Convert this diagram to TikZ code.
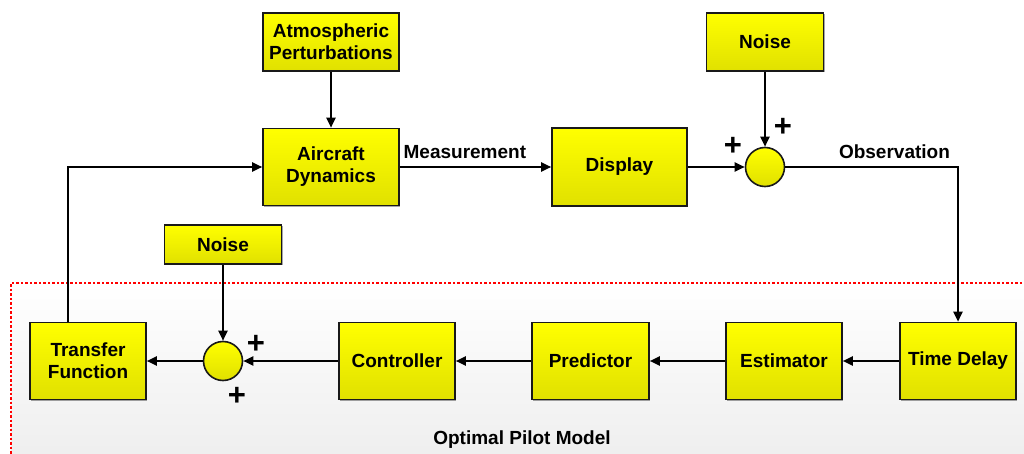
\documentclass[tikz,border=0pt]{standalone}
\usepackage{fontspec}
\setmainfont{Liberation Sans}
\usetikzlibrary{arrows.meta,shadows}
\tikzset{
  blk/.style={draw=black!90, line width=1.6pt, inner sep=0pt,
    top color=yellow, bottom color=yellow!88!black,
    drop shadow={shadow xshift=1.2pt, shadow yshift=-1.2pt, opacity=0.35, fill=black},
    font=\fontsize{19}{22}\selectfont\bfseries, align=center},
  sumnode/.style={circle, draw=black!90, line width=1.6pt, minimum size=39pt, inner sep=0pt,
    top color=yellow, bottom color=yellow!88!black},
  conn/.style={line width=2pt, -{Triangle[length=10pt,width=9pt]}},
  lbl/.style={font=\fontsize{19}{22}\selectfont\bfseries, inner sep=0pt},
  sgn/.style={font=\fontsize{31}{31}\selectfont\bfseries, inner sep=0pt}
}
\begin{document}
\begin{tikzpicture}[x=1pt,y=-1pt]
\useasboundingbox (0,0) rectangle (1024,454);
% pilot model region
\begin{scope}
\clip (0,0) rectangle (1024,454);
\fill[top color=white, bottom color=black!7] (11,283) rectangle (1040,470);
\draw[red, line width=1.4pt, dash pattern=on 2.5pt off 2pt] (1040,283) -- (11,283) -- (11,470);
\end{scope}
\node[lbl] (opm) at (522,440) {Optimal Pilot Model};

% upper loop
\node[blk, minimum width=136pt, minimum height=58pt] (atm) at (331,42) {Atmospheric\\Perturbations};
\node[blk, minimum width=136pt, minimum height=77pt] (ac) at (331,167) {Aircraft\\Dynamics};
\node[blk, minimum width=135pt, minimum height=78pt] (disp) at (619.5,167) {Display};
\node[blk, minimum width=117pt, minimum height=58pt] (n1) at (765,42) {Noise};
\node[sumnode] (s1) at (765,167) {};

% pilot model chain
\node[blk, minimum width=117pt, minimum height=39pt] (n2) at (223,244.5) {Noise};
\node[blk, minimum width=116pt, minimum height=77pt] (tf) at (88,361) {Transfer\\Function};
\node[sumnode] (s2) at (223,361) {};
\node[blk, minimum width=116pt, minimum height=77pt] (ctrl) at (397,361) {Controller};
\node[blk, minimum width=117pt, minimum height=77pt] (pred) at (590.5,361) {Predictor};
\node[blk, minimum width=116pt, minimum height=77pt] (est) at (784,361) {Estimator};
\node[blk, minimum width=116pt, minimum height=77pt] (td) at (958,361) {Time Delay};

% connectors
\draw[conn] (atm) -- (ac);
\draw[conn] (ac) -- node[lbl, above=7pt, pos=0.43] {Measurement} (disp);
\draw[conn] (disp) -- (s1);
\draw[conn] (n1) -- (s1);
\draw[conn] (s1) -| node[lbl, above=7pt, pos=0.316] {Observation} (td);
\draw[conn] (td) -- (est);
\draw[conn] (est) -- (pred);
\draw[conn] (pred) -- (ctrl);
\draw[conn] (ctrl) -- (s2);
\draw[conn] (n2) -- (s2);
\draw[conn] (s2) -- (tf);
\draw[conn] ([xshift=-20pt]tf.north) |- (ac);

% summing signs
\node[sgn] (p1) at (733,146) {+};
\node[sgn] (p2) at (783,127) {+};
\node[sgn] (p3) at (256,344) {+};
\node[sgn] (p4) at (237,396) {+};
\end{tikzpicture}
\end{document}
